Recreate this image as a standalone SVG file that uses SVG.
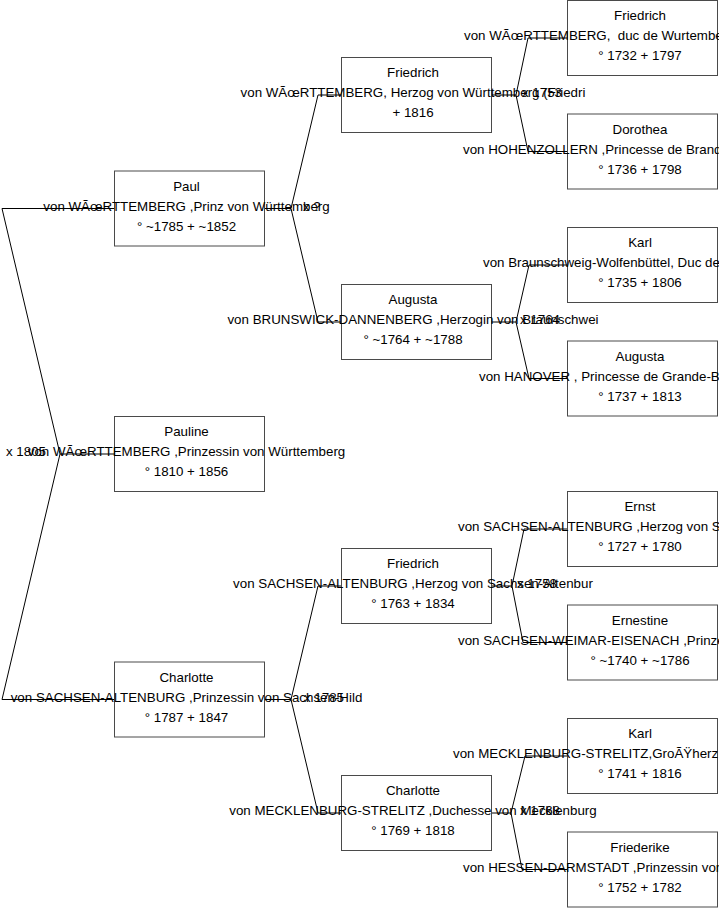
<svg xmlns="http://www.w3.org/2000/svg" width="719" height="908" viewBox="0 0 719 908">
<style>
  .box { fill: #ffffff; stroke: #4a4a4a; stroke-width: 1; }
  .c { fill: none; stroke: #000000; stroke-width: 1; }
  text { font-family: "Liberation Sans", Arial, sans-serif; font-size: 13.33px; fill: #000000; }
  .m { text-anchor: middle; }
  .s { text-anchor: start; }
</style>
<rect x="0" y="0" width="719" height="908" fill="#ffffff"/>
<g id="connectors">
  <polyline class="c" points="114,454 60,454 2,208.5 114,208.5"/>
  <polyline class="c" points="60,454 2,699.5 114,699.5"/>
  <polyline class="c" points="265,208.5 291,208.5 318,95 341,95"/>
  <polyline class="c" points="291,208.5 318,322 341,322"/>
  <polyline class="c" points="265,699.5 291,699.5 318,586 341,586"/>
  <polyline class="c" points="291,699.5 318,813 341,813"/>
  <polyline class="c" points="492,95 516,95 528,38 567,38"/>
  <polyline class="c" points="516,95 528,151.5 567,151.5"/>
  <polyline class="c" points="492,322 516,322 529,265 567,265"/>
  <polyline class="c" points="516,322 529,378.5 567,378.5"/>
  <polyline class="c" points="492,586 512,586 524,529 567,529"/>
  <polyline class="c" points="512,586 523,642.5 567,642.5"/>
  <polyline class="c" points="492,813 511,813 525,756 567,756"/>
  <polyline class="c" points="511,813 522,869.5 567,869.5"/>
  <text class="s" x="6" y="456">x 1805</text>
  <text class="s" x="303" y="210.5">x ?</text>
  <text class="s" x="304" y="701.5">x 1785</text>
  <text class="s" x="522" y="97">x 1753</text>
  <text class="s" x="520" y="324">x 1764</text>
  <text class="s" x="517" y="588">x 1758</text>
  <text class="s" x="520" y="815">x 1768</text>
</g>
<g id="pauline">
  <rect class="box" x="114.5" y="416.5" width="150" height="75"/>
  <text class="m" x="186.5" y="436">Pauline</text>
  <text class="m" x="186.5" y="456">von WÃœRTTEMBERG ,Prinzessin von Württemberg</text>
  <text class="m" x="186.5" y="476">° 1810 + 1856</text>
</g>
<g id="paul">
  <rect class="box" x="114.5" y="171" width="150" height="75"/>
  <text class="m" x="186.5" y="190.5">Paul</text>
  <text class="m" x="186.5" y="210.5">von WÃœRTTEMBERG ,Prinz von Württemberg</text>
  <text class="m" x="186.5" y="230.5">° ~1785 + ~1852</text>
</g>
<g id="charlotte1">
  <rect class="box" x="114.5" y="662" width="150" height="75"/>
  <text class="m" x="186.5" y="681.5">Charlotte</text>
  <text class="m" x="186.5" y="701.5">von SACHSEN-ALTENBURG ,Prinzessin von Sachsen-Hild</text>
  <text class="m" x="186.5" y="721.5">° 1787 + 1847</text>
</g>
<g id="friedrich1">
  <rect class="box" x="341.5" y="57.5" width="150" height="75"/>
  <text class="m" x="413" y="77">Friedrich</text>
  <text class="m" x="413" y="97">von WÃœRTTEMBERG, Herzog von Württemberg (Friedri</text>
  <text class="m" x="413" y="117">+ 1816</text>
</g>
<g id="augusta1">
  <rect class="box" x="341.5" y="284.5" width="150" height="75"/>
  <text class="m" x="413" y="304">Augusta</text>
  <text class="m" x="413" y="324">von BRUNSWICK-DANNENBERG ,Herzogin von Braunschwei</text>
  <text class="m" x="413" y="344">° ~1764 + ~1788</text>
</g>
<g id="friedrich2">
  <rect class="box" x="341.5" y="548.5" width="150" height="75"/>
  <text class="m" x="413" y="568">Friedrich</text>
  <text class="m" x="413" y="588">von SACHSEN-ALTENBURG ,Herzog von Sachsen-Altenbur</text>
  <text class="m" x="413" y="608">° 1763 + 1834</text>
</g>
<g id="charlotte2">
  <rect class="box" x="341.5" y="775.5" width="150" height="75"/>
  <text class="m" x="413" y="795">Charlotte</text>
  <text class="m" x="413" y="815">von MECKLENBURG-STRELITZ ,Duchesse von Mecklenburg</text>
  <text class="m" x="413" y="835">° 1769 + 1818</text>
</g>
<g id="friedrich3">
  <rect class="box" x="567.5" y="0.5" width="150" height="75"/>
  <text class="m" x="640" y="20">Friedrich</text>
  <text class="s" x="464" y="40" xml:space="preserve">von WÃœRTTEMBERG,  duc de Wurtembe</text>
  <text class="m" x="640" y="60">° 1732 + 1797</text>
</g>
<g id="dorothea">
  <rect class="box" x="567.5" y="114" width="150" height="75"/>
  <text class="m" x="640" y="133.5">Dorothea</text>
  <text class="s" x="463" y="153.5">von HOHENZOLLERN ,Princesse de Brand</text>
  <text class="m" x="640" y="173.5">° 1736 + 1798</text>
</g>
<g id="karl1">
  <rect class="box" x="567.5" y="227.5" width="150" height="75"/>
  <text class="m" x="640" y="247">Karl</text>
  <text class="s" x="483" y="267">von Braunschweig-Wolfenbüttel, Duc de</text>
  <text class="m" x="640" y="287">° 1735 + 1806</text>
</g>
<g id="augusta2">
  <rect class="box" x="567.5" y="341" width="150" height="75"/>
  <text class="m" x="640" y="360.5">Augusta</text>
  <text class="s" x="479" y="380.5">von HANOVER , Princesse de Grande-B</text>
  <text class="m" x="640" y="400.5">° 1737 + 1813</text>
</g>
<g id="ernst">
  <rect class="box" x="567.5" y="491.5" width="150" height="75"/>
  <text class="m" x="640" y="511">Ernst</text>
  <text class="s" x="458" y="531">von SACHSEN-ALTENBURG ,Herzog von S</text>
  <text class="m" x="640" y="551">° 1727 + 1780</text>
</g>
<g id="ernestine">
  <rect class="box" x="567.5" y="605" width="150" height="75"/>
  <text class="m" x="640" y="624.5">Ernestine</text>
  <text class="s" x="458" y="644.5">von SACHSEN-WEIMAR-EISENACH ,Prinze</text>
  <text class="m" x="640" y="664.5">° ~1740 + ~1786</text>
</g>
<g id="karl2">
  <rect class="box" x="567.5" y="718.5" width="150" height="75"/>
  <text class="m" x="640" y="738">Karl</text>
  <text class="s" x="453" y="758">von MECKLENBURG-STRELITZ,GroÃŸherz</text>
  <text class="m" x="640" y="778">° 1741 + 1816</text>
</g>
<g id="friederike">
  <rect class="box" x="567.5" y="832" width="150" height="75"/>
  <text class="m" x="640" y="851.5">Friederike</text>
  <text class="s" x="463" y="871.5">von HESSEN-DARMSTADT ,Prinzessin von</text>
  <text class="m" x="640" y="891.5">° 1752 + 1782</text>
</g>
</svg>
